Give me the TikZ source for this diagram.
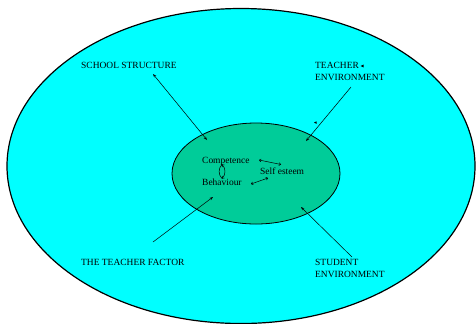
\documentclass[tikz,border=0pt]{standalone}
\usepackage{fontspec}
\setmainfont{Liberation Serif}
\usetikzlibrary{arrows.meta}

\definecolor{outerfill}{HTML}{00FFFF}
\definecolor{innerfill}{HTML}{00CC99}

\tikzset{
  lbl/.style={anchor=north west, inner sep=0pt, align=left, font=\fontsize{9.5}{11.7}\selectfont},
  word/.style={anchor=base west, inner sep=0pt, font=\fontsize{9.5}{11.7}\selectfont},
  link/.style={-{Stealth[length=3.5pt,width=2.6pt]}, line width=0.5pt},
  dlink/.style={{Stealth[length=3.5pt,width=2.6pt]}-{Stealth[length=3.5pt,width=2.6pt]}, line width=0.5pt},
  ilink/.style={{To[length=2.2pt,width=3.2pt]}-{To[length=2.2pt,width=3.2pt]}, line width=0.5pt},
}

\begin{document}
\begin{tikzpicture}[x=1bp, y=-1bp]

\useasboundingbox (0,0) rectangle (476,323);

% the two fields
\draw[line width=1.2pt, fill=outerfill] (241,166) ellipse [x radius=234bp, y radius=157.5bp];
\draw[line width=0.8pt, fill=innerfill] (256,173.5) ellipse [x radius=84bp, y radius=50.5bp];

% outer labels
\node[lbl] (school) at (81,62) {SCHOOL STRUCTURE};
\node[lbl] (teachenv) at (315,62) {TEACHER\\ENVIRONMENT};
\node[lbl] (factor) at (81,259.5) {THE TEACHER FACTOR};
\node[lbl] (studenv) at (315,259) {STUDENT\\ENVIRONMENT};

% inner labels
\node[word] (comp) at (202,163) {Competence};
\node[word] (behav) at (202,185.5) {Behaviour};
\node[word] (selfest) at (260,174.5) {Self esteem};

\coordinate (schooltail) at (153,74);
\coordinate (schoolhead) at (207,140);
\coordinate (teachtail) at (351,87);
\coordinate (teachhead) at (306,141);
\coordinate (factortail) at (153,242);
\coordinate (factorhead) at (213,197);
\coordinate (studtail) at (352,257);
\coordinate (studhead) at (301,207);

\draw[dlink] (schooltail) -- (schoolhead);
\draw[link] (teachtail) -- (teachhead);
\draw[link] (factortail) -- (factorhead);
\draw[link] (studtail) -- (studhead);

% links between the inner words
\coordinate (cbtop) at (222,164.5);
\coordinate (cbbot) at (222,178.5);
\coordinate (csleft) at (259,160);
\coordinate (csright) at (281,164.5);
\coordinate (bsleft) at (251,184);
\coordinate (bsright) at (268,178);

\draw[ilink] (cbtop) to[bend left=45] (cbbot);
\draw[line width=0.5pt] (cbtop) to[bend right=45] (cbbot);
\draw[ilink] (csleft) -- (csright);
\draw[ilink] (bsleft) -- (bsright);

% stray marks
\fill (360.5,66) -- (363.5,64.6) -- (363.5,67.4) -- cycle;
\fill (314,122.5) -- (316.5,121.4) -- (316.5,123.8) -- cycle;

\end{tikzpicture}
\end{document}
